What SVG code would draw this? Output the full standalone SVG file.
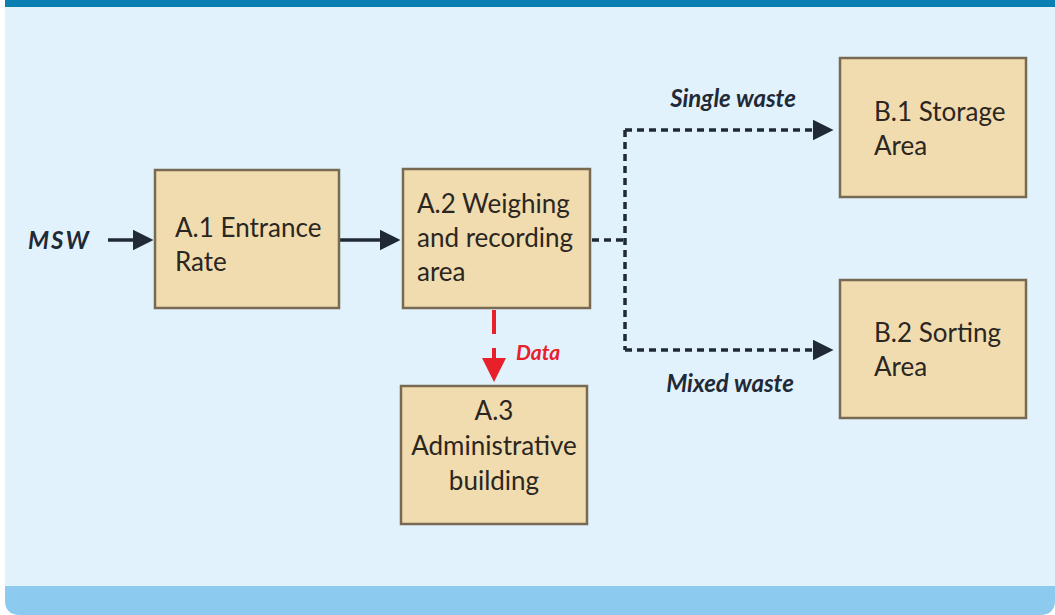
<svg xmlns="http://www.w3.org/2000/svg" width="1055" height="615" viewBox="0 0 1055 615">
<style>
.box{fill:#f1dcb0;stroke:#786a52;stroke-width:2.5}
.t{font-family:Lato,"Open Sans",sans-serif;font-size:26px;fill:#2b2620}
.lbl{font-family:Lato,"Open Sans",sans-serif;font-size:24px;font-weight:bold;font-style:italic;fill:#1f2a36}
.solid{stroke:#1f2a36;stroke-width:3.5;fill:none}
.dot{stroke:#1f2a36;stroke-width:3.5;fill:none;stroke-dasharray:7 5}
</style>
<defs>
<marker id="ah" markerWidth="6" markerHeight="6" refX="5" refY="3" orient="auto" markerUnits="strokeWidth">
<path d="M0,0 L6,3 L0,6 Z" fill="#1f2a36"/>
</marker>
<marker id="ahr" markerWidth="6" markerHeight="6" refX="5" refY="3" orient="auto" markerUnits="strokeWidth">
<path d="M0,0 L6,3 L0,6 Z" fill="#e8202a"/>
</marker>
</defs>
<rect x="0" y="0" width="1055" height="615" fill="#ffffff"/>
<path d="M5,0 H1055 V600 Q1055,615 1040,615 H20 Q5,615 5,600 Z" fill="#e1f2fc"/>
<rect x="5" y="0" width="1050" height="7" fill="#0a7fb2"/>
<path d="M5,586 H1055 V600 Q1055,615 1040,615 H20 Q5,615 5,600 Z" fill="#8ccbef"/>
<g id="connectors">
<line class="solid" x1="108" y1="240" x2="150" y2="240" marker-end="url(#ah)"/>
<line class="solid" x1="340" y1="240" x2="397" y2="240" marker-end="url(#ah)"/>
<polyline class="dot" points="592,240 625,240"/>
<polyline class="dot" points="625,130 625,350"/>
<line class="dot" x1="625" y1="130" x2="830" y2="130" marker-end="url(#ah)"/>
<line class="dot" x1="625" y1="350" x2="830" y2="350" marker-end="url(#ah)"/>
<line x1="494" y1="310" x2="494" y2="378" stroke="#e8202a" stroke-width="4" stroke-dasharray="24 14" marker-end="url(#ahr)"/>
<text class="lbl" x="28" y="249" style="letter-spacing:2px">MSW</text>
<text class="lbl" x="733" y="107" text-anchor="middle">Single waste</text>
<text class="lbl" x="730" y="392" text-anchor="middle">Mixed waste</text>
<text class="lbl" x="516" y="360" style="fill:#e8202a;font-size:21px">Data</text>
</g>
<g id="A1">
<rect class="box" x="155" y="170" width="184" height="138"/>
<text class="t" x="175" y="237">A.1 Entrance</text>
<text class="t" x="175" y="271">Rate</text>
</g>
<g id="A2">
<rect class="box" x="403" y="169" width="187" height="139"/>
<text class="t" x="417" y="213">A.2 Weighing</text>
<text class="t" x="417" y="247">and recording</text>
<text class="t" x="417" y="281">area</text>
</g>
<g id="A3">
<rect class="box" x="401" y="386" width="186" height="138"/>
<text class="t" x="494" y="420" text-anchor="middle">A.3</text>
<text class="t" x="494" y="455" text-anchor="middle">Administrative</text>
<text class="t" x="494" y="490" text-anchor="middle">building</text>
</g>
<g id="B1">
<rect class="box" x="840" y="58" width="186" height="139"/>
<text class="t" x="874" y="121">B.1 Storage</text>
<text class="t" x="874" y="155">Area</text>
</g>
<g id="B2">
<rect class="box" x="840" y="280" width="186" height="138"/>
<text class="t" x="874" y="342">B.2 Sorting</text>
<text class="t" x="874" y="376">Area</text>
</g>
</svg>
